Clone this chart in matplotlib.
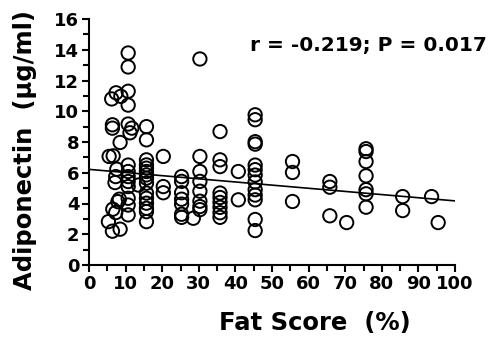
import matplotlib
matplotlib.use("Agg")
import matplotlib.pyplot as plt
import numpy as np
from matplotlib.ticker import MultipleLocator

# Fat score (%) and adiponectin (ug/ml)
fat_score = [
    5.3, 6.4, 8.5, 6.5, 7.3, 8.3, 7.9, 7.1, 7.3, 7.6, 5.5, 6.6, 6.4, 6.4, 8.5, 6.2, 7.4, 8.7,
    10.7, 10.7, 10.7, 10.7, 10.7, 11.2, 11.7, 10.7, 10.7, 10.7, 10.7, 10.7, 10.7, 10.7, 10.7,
    13.5,
    15.7, 15.7, 15.7, 15.7, 15.7, 15.7, 15.7, 15.7, 15.7, 15.7, 15.7, 15.7, 15.7, 15.7, 15.7,
    20.3, 20.3, 20.3,
    25.3, 25.3, 25.3, 25.3, 25.3, 25.3, 25.3,
    28.5,
    30.3, 30.3, 30.3, 30.3, 30.3, 30.3, 30.3, 30.3,
    35.8, 35.8, 35.8, 35.8, 35.8, 35.8, 35.8, 35.8, 35.8,
    40.8, 40.8,
    45.4, 45.4, 45.4, 45.4, 45.4, 45.4, 45.4, 45.4, 45.4, 45.4, 45.4, 45.4, 45.4,
    55.6, 55.6, 55.6,
    65.8, 65.8, 65.8,
    70.4,
    75.7, 75.7, 75.7, 75.7, 75.7, 75.7, 75.7,
    85.7, 85.7,
    93.6,
    95.4,
]
adiponectin = [
    2.82, 2.2, 2.33, 3.63, 3.41, 4.28, 4.12, 5.36, 5.75, 6.23, 7.06, 7.1, 9.12, 8.9, 7.97, 10.8, 11.2, 10.97,
    13.79, 12.88, 11.3, 10.4, 9.17, 8.6, 8.9, 6.5, 6.08, 5.75, 5.43, 5.1, 4.34, 3.9, 3.26,
    5.2,
    9.0, 8.14, 6.84, 6.51, 6.3, 6.08, 5.86, 5.65, 5.32, 4.68, 4.34, 4.02, 3.69, 3.47, 2.82,
    7.06, 5.1, 4.7,
    5.75, 5.44, 4.7, 4.28, 3.96, 3.3, 3.1,
    3.04,
    13.4, 7.06, 6.08, 5.44, 4.8, 4.15, 3.8, 3.6,
    8.68, 6.84, 6.4, 4.68, 4.39, 4.07, 3.75, 3.4, 3.1,
    6.08, 4.24,
    9.77, 9.45, 8.02, 7.86, 6.5, 6.2, 5.85, 5.4, 4.9, 4.55, 4.24, 2.96, 2.24,
    6.73, 6.02, 4.13,
    5.43, 5.06, 3.2,
    2.76,
    7.56, 7.38, 6.73, 5.8, 4.9, 4.63, 3.76,
    4.45, 3.54,
    4.45,
    2.76,
]

# regression line
fit_intercept = 6.22
fit_slope = -0.0205
fit_x = [0, 100]

annotation = "r = -0.219; P = 0.017"
x_label = "Fat Score  (%)"
y_label = "Adiponectin  (µg/ml)"

plt.rcParams['font.family'] = ['DejaVu Sans']
plt.rcParams['font.weight'] = 'bold'

fig = plt.figure(figsize=(4.89, 3.42), dpi=100)
ax = fig.add_axes([89/489, 1 - 265/342, (455-89)/489, (265-19)/342])

ax.scatter(fat_score, adiponectin, s=92, facecolors='none', edgecolors='black',
           linewidths=1.4, zorder=3, clip_on=False)
fx = np.array(fit_x, dtype=float)
ax.plot(fx, fit_intercept + fit_slope * fx, color='black', lw=1.2, zorder=2)

ax.set_xlim(0, 100)
ax.set_ylim(0, 16)
ax.xaxis.set_major_locator(MultipleLocator(10))
ax.xaxis.set_minor_locator(MultipleLocator(5))
ax.yaxis.set_major_locator(MultipleLocator(2))
ax.yaxis.set_minor_locator(MultipleLocator(1))
for s in ['top', 'right']:
    ax.spines[s].set_visible(False)
for s in ['left', 'bottom']:
    ax.spines[s].set_linewidth(1.5)
ax.tick_params(which='both', direction='out', width=1.5, labelsize=13, pad=2)
ax.tick_params(which='major', length=5)
ax.tick_params(which='minor', length=4)
for lab in ax.get_xticklabels() + ax.get_yticklabels():
    lab.set_fontweight('bold')

fig.text(315/489, 1 - 323/342, x_label, ha='center', va='center',
         fontsize=17.5, fontweight='bold')
fig.text(25/489, 1 - 150/342, y_label, ha='center', va='center', rotation=90,
         fontsize=17.5, fontweight='bold')

fig.text(487/489, 1 - 46/342, annotation, ha='right', va='center', fontsize=14.5, fontweight='bold')

fig.savefig("out.png", dpi=100)
